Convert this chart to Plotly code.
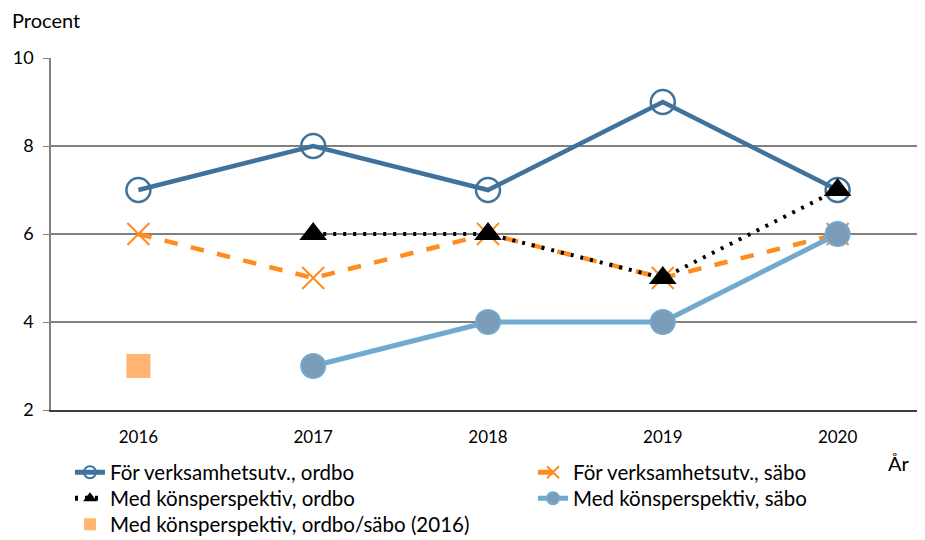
import plotly.graph_objects as go

years = ["2016", "2017", "2018", "2019", "2020"]
verks_ordbo = [7, 8, 7, 9, 7]
verks_sabo = [6, 5, 6, 5, 6]
kon_ordbo = [None, 6, 6, 5, 7]
kon_sabo = [None, 3, 4, 4, 6]
kon_both_2016 = [3, None, None, None, None]

FONT = "Lato, 'Open Sans', sans-serif"

fig = go.Figure()
fig.add_trace(go.Scatter(
    x=years, y=verks_ordbo, name="För verksamhetsutv., ordbo", mode="lines+markers",
    line=dict(color="#41729b", width=4.5), legend="legend",
    marker=dict(symbol="circle-open", size=24, color="#41729b", line=dict(width=2.5, color="#41729b")),
))
fig.add_trace(go.Scatter(
    x=years, y=verks_sabo, name="För verksamhetsutv., säbo", mode="lines+markers",
    line=dict(color="#ff8c1f", width=4.5, dash="dash"), legend="legend2",
    marker=dict(symbol="x-thin", size=22, line=dict(width=2, color="#ff8c1f")),
))
fig.add_trace(go.Scatter(
    x=years, y=kon_ordbo, name="Med könsperspektiv, ordbo", mode="lines+markers",
    line=dict(color="#000000", width=4, dash="3px,7px"), legend="legend3",
    marker=dict(symbol="triangle-up", size=24, color="#000000"),
))
fig.add_trace(go.Scatter(
    x=years, y=kon_sabo, name="Med könsperspektiv, säbo", mode="lines+markers",
    line=dict(color="#72aacf", width=5), legend="legend4",
    marker=dict(symbol="circle", size=24, color="#7a9cb8", line=dict(width=2, color="#72aacf")),
))
fig.add_trace(go.Scatter(
    x=years, y=kon_both_2016, name="Med könsperspektiv, ordbo/säbo (2016)", mode="markers",
    legend="legend5",
    marker=dict(symbol="square", size=24, color="#ffb570"),
))

leg_common = dict(
    orientation="v", yanchor="top", xanchor="left",
    font=dict(size=20.5), tracegroupgap=0, itemsizing="constant",
    bgcolor="rgba(0,0,0,0)",
)
XL, XR = 0.0217, 0.5515
Y1, Y2, Y3 = -0.1207, -0.1946, -0.2685

fig.update_layout(
    width=917, height=532,
    margin=dict(l=43, r=0, t=50, b=130, autoexpand=False),
    paper_bgcolor="white", plot_bgcolor="white",
    font=dict(family=FONT, size=17, color="#000000"),
    showlegend=True,
    legend=dict(x=XL, y=Y1, **leg_common),
    legend2=dict(x=XR, y=Y1, **leg_common),
    legend3=dict(x=XL, y=Y2, **leg_common),
    legend4=dict(x=XR, y=Y2, **leg_common),
    legend5=dict(x=XL, y=Y3, **leg_common),
    xaxis=dict(
        type="category", range=[-0.5, 4.5], showgrid=False,
        showline=True, linecolor="#404040", linewidth=1.5,
        ticks="", tickfont=dict(size=17), zeroline=False,
        ticklabelstandoff=11,
    ),
    yaxis=dict(
        range=[2, 10], tickvals=[2, 4, 6, 8, 10], showgrid=True,
        gridcolor="#808080", gridwidth=1.5,
        showline=True, linecolor="#808080", linewidth=1.5,
        ticks="outside", ticklen=6, tickcolor="#808080",
        tickfont=dict(size=18), zeroline=False,
        ticklabelstandoff=6,
    ),
    annotations=[
        dict(text="Procent", xref="paper", yref="paper", x=-0.0474, y=1.068,
             xanchor="left", yanchor="bottom", showarrow=False, font=dict(size=20)),
        dict(text="År", xref="paper", yref="paper", x=0.985, y=-0.11,
             xanchor="right", yanchor="top", showarrow=False, font=dict(size=20)),
    ],
)

fig.write_html("out.html")
